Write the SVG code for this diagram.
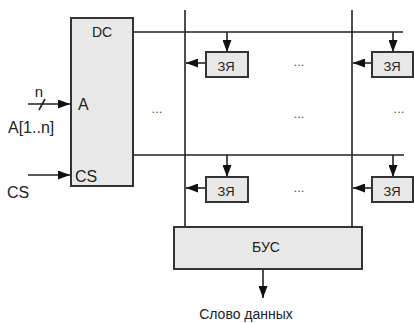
<svg xmlns="http://www.w3.org/2000/svg" width="414" height="323" viewBox="0 0 414 323">
<style>
.box{fill:#e8e8e8;stroke:#333;stroke-width:2}
.ln{stroke:#222;stroke-width:1.6;fill:none}
.t{font-family:"Liberation Sans",Arial,sans-serif;fill:#222}
.dots{font-family:"Liberation Sans",Arial,sans-serif;fill:#555;font-size:13px;text-anchor:middle}
</style>
<defs>
<marker id="ah" viewBox="0 0 12 9" refX="12" refY="4.5" markerWidth="12" markerHeight="9" markerUnits="userSpaceOnUse" orient="auto">
<path d="M0,0 L12,4.5 L0,9 Z" fill="#111"/>
</marker>
</defs>
<rect width="414" height="323" fill="#fff"/>
<g id="connectors">
<line class="ln" x1="133" y1="32" x2="403" y2="32"/>
<line class="ln" x1="133" y1="155" x2="404" y2="155"/>
<line class="ln" x1="185" y1="10" x2="185" y2="227"/>
<line class="ln" x1="352" y1="10" x2="352" y2="227"/>
<line class="ln" x1="227" y1="32" x2="227" y2="52" marker-end="url(#ah)"/>
<line class="ln" x1="393" y1="32" x2="393" y2="52" marker-end="url(#ah)"/>
<line class="ln" x1="227" y1="155" x2="227" y2="177" marker-end="url(#ah)"/>
<line class="ln" x1="393" y1="155" x2="393" y2="177" marker-end="url(#ah)"/>
<line class="ln" x1="206" y1="63" x2="186" y2="63" marker-end="url(#ah)"/>
<line class="ln" x1="372" y1="63" x2="353" y2="63" marker-end="url(#ah)"/>
<line class="ln" x1="206" y1="188" x2="186" y2="188" marker-end="url(#ah)"/>
<line class="ln" x1="372" y1="188" x2="353" y2="188" marker-end="url(#ah)"/>
<line class="ln" x1="28" y1="104" x2="70" y2="104" marker-end="url(#ah)"/>
<line class="ln" x1="39" y1="110" x2="45" y2="99"/>
<line class="ln" x1="28" y1="175" x2="70" y2="175" marker-end="url(#ah)"/>
<line class="ln" x1="263" y1="269" x2="263" y2="298" marker-end="url(#ah)"/>
</g>
<g id="dc">
<rect class="box" x="71" y="18" width="62" height="168"/>
<text class="t" x="102" y="37" font-size="14" text-anchor="middle">DC</text>
<text class="t" x="78" y="110" font-size="16">A</text>
<text class="t" x="75" y="182" font-size="16">CS</text>
</g>
<g id="cell11"><rect class="box" x="206" y="52" width="42" height="25"/><text class="t" x="226" y="71" font-size="13" text-anchor="middle">ЗЯ</text></g>
<g id="cell1n"><rect class="box" x="372" y="52" width="41" height="25"/><text class="t" x="392" y="71" font-size="13" text-anchor="middle">ЗЯ</text></g>
<g id="cellm1"><rect class="box" x="206" y="177" width="42" height="25"/><text class="t" x="226" y="196" font-size="13" text-anchor="middle">ЗЯ</text></g>
<g id="cellmn"><rect class="box" x="372" y="177" width="41" height="25"/><text class="t" x="392" y="196" font-size="13" text-anchor="middle">ЗЯ</text></g>
<g id="bus">
<rect class="box" x="174" y="227" width="188" height="42"/>
<text class="t" x="266" y="252" font-size="14" text-anchor="middle">БУС</text>
</g>
<g id="labels">
<text class="t" x="39" y="97" font-size="15" text-anchor="middle">n</text>
<text class="t" x="8" y="133" font-size="16">A[1..n]</text>
<text class="t" x="7" y="198" font-size="16">CS</text>
<text class="t" x="246" y="319" font-size="14" text-anchor="middle">Слово данных</text>
<text class="dots" x="157" y="113">...</text>
<text class="dots" x="299" y="66">...</text>
<text class="dots" x="299" y="118">...</text>
<text class="dots" x="399" y="113">...</text>
<text class="dots" x="299" y="192">...</text>
</g>
</svg>
